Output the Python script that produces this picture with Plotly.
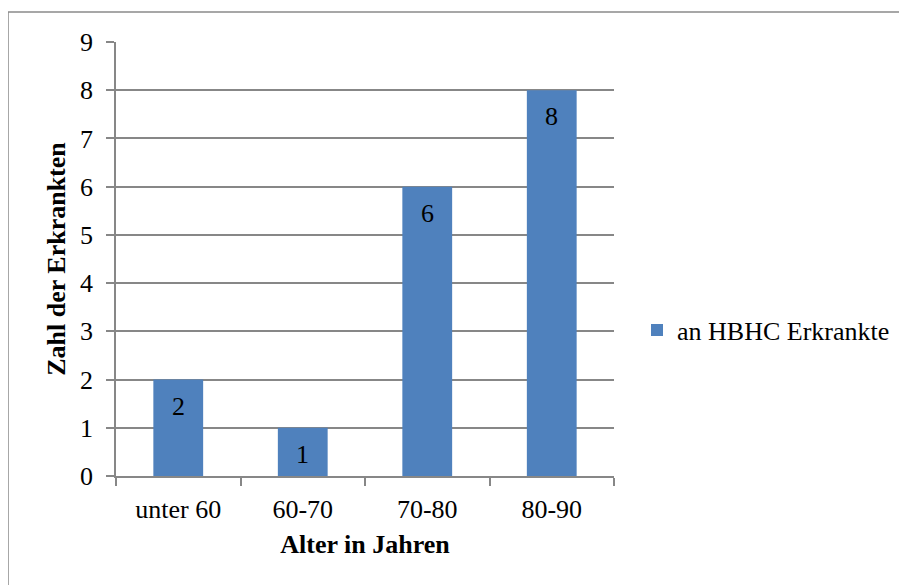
import plotly.graph_objects as go

categories = ["unter 60", "60-70", "70-80", "80-90"]
values = [2, 1, 6, 8]
series_name = "an HBHC Erkrankte"
y_ticks = list(range(0, 10))
x_title = "Alter in Jahren"
y_title = "Zahl der Erkrankten"

FONT = "Liberation Serif"
BAR = "#4F81BD"
GRID = "#878787"

# page body adds an 8px offset; work in shifted pixel coordinates
OFF = 8
W, H = 907 - OFF, 585 - OFF
L, T = 116 - OFF, 42 - OFF
R = W - (614 - OFF)
B = H - (476 - OFF)
pw, ph = W - L - R, H - T - B

def px(x):
    return (x - OFF - L) / pw

def py(y):
    return (H - B - (y - OFF)) / ph

fig = go.Figure()
fig.add_trace(go.Bar(x=categories, y=values, name=series_name,
                     marker=dict(color=BAR, line=dict(width=0)),
                     width=0.4, showlegend=True))

for c, v in zip(categories, values):
    fig.add_annotation(x=c, y=v, text=str(v), showarrow=False,
                       yanchor="top", yshift=-10,
                       font=dict(family=FONT, size=26, color="black"))

# outer frame (left and top edges visible)
fig.add_shape(type="line", xref="paper", yref="paper",
              x0=px(8), x1=px(8), y0=py(12), y1=py(600),
              line=dict(color="#8a8a8a", width=1.5))
fig.add_shape(type="line", xref="paper", yref="paper",
              x0=px(8), x1=px(920), y0=py(12), y1=py(12),
              line=dict(color="#8a8a8a", width=1.5))

fig.update_layout(
    width=W, height=H,
    margin=dict(l=L, r=R, t=T, b=B, autoexpand=False),
    paper_bgcolor="white", plot_bgcolor="white",
    font=dict(family=FONT, size=26, color="black"),
    showlegend=True,
    legend=dict(x=px(637), y=py(330), xanchor="left", yanchor="middle",
                font=dict(family=FONT, size=26, color="black"),
                bgcolor="rgba(0,0,0,0)"),
    bargap=0.6,
    xaxis=dict(
        type="category", showline=True, linecolor=GRID, linewidth=1.5,
        ticks="outside", tickson="boundaries", ticklen=8, tickcolor=GRID,
        tickwidth=1.5, showgrid=False, ticklabelstandoff=9,
        title=dict(text="<b>" + x_title + "</b>", standoff=12,
                   font=dict(family=FONT, size=26)),
        tickfont=dict(family=FONT, size=26, color="black"),
    ),
    yaxis=dict(
        range=[0, 9], tickvals=y_ticks, showline=True, linecolor=GRID,
        linewidth=1.5, ticks="outside", ticklen=8, tickcolor=GRID,
        tickwidth=1.5, showgrid=True, gridcolor=GRID, gridwidth=1.5,
        zeroline=False, ticklabelstandoff=8,
        title=dict(text="<b>" + y_title + "</b>", standoff=7,
                   font=dict(family=FONT, size=26)),
        tickfont=dict(family=FONT, size=26, color="black"),
    ),
)

fig.write_html("out.html")
